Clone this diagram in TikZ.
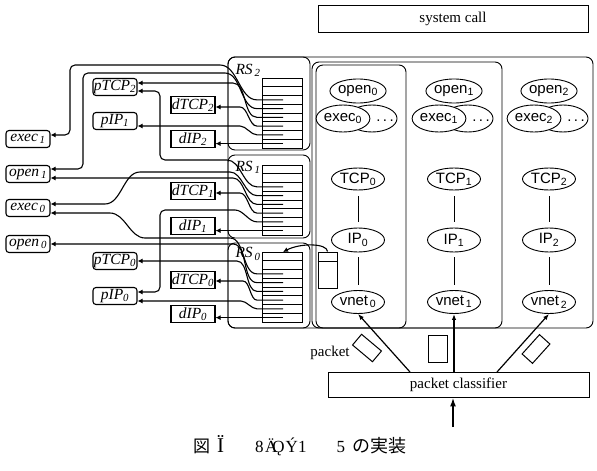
\documentclass[tikz,border=0pt]{standalone}
\usepackage{fontspec}
\setmainfont{Liberation Serif}
\setsansfont{Liberation Sans}
\newfontfamily\jpfont{Noto Sans CJK JP}
\usetikzlibrary{arrows.meta,shapes.geometric,calc}

\begin{document}
\begin{tikzpicture}[
  x=1pt, y=-1pt,
  every node/.style={font=\fontsize{15}{17}\selectfont},
  lbox/.style={draw,rounded corners=3pt,line width=1.1pt,minimum width=44pt,
               minimum height=17pt,inner sep=0.5pt,
               font=\fontsize{15.5}{17}\selectfont\itshape},
  dbox/.style={lbox,sharp corners},
  proto/.style={draw,ellipse,line width=0.9pt,minimum width=53pt,minimum height=23pt,
                inner sep=0pt,font=\sffamily\fontsize{15}{17}\selectfont},
  bigbox/.style={draw,line width=0.9pt,inner sep=0pt,font=\fontsize{15}{17}\selectfont},
  region/.style={draw,line width=0.9pt,rounded corners=7pt},
  conn/.style={line width=1.1pt,rounded corners=5pt,-{Latex[length=5pt,width=5pt]}},
  varr/.style={line width=1.2pt,-{Latex[length=6pt,width=4.5pt]}},
  inarr/.style={line width=1.8pt,-{Latex[length=9pt,width=6pt]}},
  pkt/.style={draw,line width=1pt,minimum width=26pt,minimum height=14pt,inner sep=0pt},
]
  \useasboundingbox (0,0) rectangle (597,471);

  % System call and classifier
  \node[bigbox,minimum width=270pt,minimum height=27pt] (syscall) at (453,18.5) {system call};
  \node[bigbox,minimum width=261pt,minimum height=25pt] (classifier) at (458.5,384.5) {packet classifier};

  % Regions
  \draw[region] (228,57) rectangle (593,328);
  \draw[region] (228,57) rectangle (310,150);
  \draw[region] (228,155) rectangle (310,238);
  \draw[region] (228,243) rectangle (310,328);
  \draw[region] (312,62) rectangle (502,328);
  \draw[region] (316,65) rectangle (406,328);

  % RS tables
  \foreach \n/\ty/\ly in {2/78/70,1/165/167,0/252/254}{
    \draw[line width=1pt] (262,\ty) rectangle (302,\ty+70);
    \foreach \k in {1,...,7}
      \draw[line width=0.9pt] (262,\ty+\k*8.75) -- (302,\ty+\k*8.75);
    \foreach \k in {1,...,8}
      \coordinate (rs\n r\k) at (283,\ty+\k*8.75-4.375);
    \coordinate (rs\n top) at (283,\ty);
    \node[font=\fontsize{15.5}{17}\selectfont\itshape] (rs\n) at (248,\ly) {RS\textsubscript{\,\n}};
  }

  % Process boxes
  \node[lbox] (exec1) at (28,139) {exec\textsubscript{\,1}};
  \node[lbox] (open1) at (28,174) {open\textsubscript{\,1}};
  \node[lbox] (exec0) at (28,208) {exec\textsubscript{\,0}};
  \node[lbox] (open0) at (28,244) {open\textsubscript{\,0}};
  \node[lbox] (ptcp2) at (115,87)  {pTCP\textsubscript{2}};
  \node[lbox] (pip1)  at (115,121) {pIP\textsubscript{1}};
  \node[lbox] (ptcp0) at (115,261) {pTCP\textsubscript{0}};
  \node[lbox] (pip0)  at (115,296) {pIP\textsubscript{0}};
  \node[dbox] (dtcp2) at (193,105) {dTCP\textsubscript{2}};
  \node[dbox] (dip2)  at (193,139) {dIP\textsubscript{2}};
  \node[dbox] (dtcp1) at (193,191) {dTCP\textsubscript{1}};
  \node[dbox] (dip1)  at (193,226) {dIP\textsubscript{1}};
  \node[dbox] (dtcp0) at (193,280) {dTCP\textsubscript{0}};
  \node[dbox] (dip0)  at (193,314) {dIP\textsubscript{0}};

  % Connectors from RS 2
  \draw[conn] (rs2r3) -- ++(-21,0) to[out=180,in=0] (215,65) -- (70,65) -- (70,135)
    -- ([yshift=4pt]exec1.east);
  \draw[conn] (rs2r4) -- ++(-21,0) to[out=180,in=0] (220,73) -- (83,73) -- (83,169)
    -- ([yshift=5pt]open1.east);
  \draw[conn] (rs2r5) -- ++(-21,0) to[out=180,in=0] (228,83) -- ([yshift=4pt]ptcp2.east);
  \draw[conn] (rs2r6) -- ++(-21,0) to[out=180,in=0] (235,107) -- ([yshift=-2pt]dtcp2.east);
  \draw[conn] (rs2r7) -- ++(-21,0) to[out=180,in=0] (235,126) -- ([yshift=-5pt]pip1.east);
  \draw[conn] (rs2r8) -- (dip2.east |- rs2r8);

  % Connectors from RS 1
  \draw[conn] (rs1r3) -- ++(-21,0) to[out=180,in=0] (222,160) -- (160,160) -- (160,91)
    -- ([yshift=-4pt]ptcp2.east);
  \draw[conn] (rs1r4) -- ++(-21,0) to[out=180,in=0] (225,172) -- (145,172)
    to[out=180,in=0] (100,204) -- ([yshift=4pt]exec0.east);
  \draw[conn] (rs1r5) -- ++(-21,0) to[out=180,in=0] (228,178) -- ([yshift=-4pt]open1.east);
  \draw[conn] (rs1r6) -- ++(-21,0) to[out=180,in=0] (235,193) -- ([yshift=-2pt]dtcp1.east);
  \draw[conn] (rs1r7) -- ++(-21,0) to[out=180,in=0] (230,210) -- (160,210) -- (160,292)
    -- ([yshift=4pt]pip0.east);
  \draw[conn] (rs1r8) -- (dip1.east |- rs1r8);

  % Connectors from RS 0
  \draw[conn] (rs0r3) -- ++(-21,0) to[out=180,in=0] (225,238) -- (150,238)
    to[out=180,in=0] (105,213) -- ([yshift=-5pt]exec0.east);
  \draw[conn] (rs0r4) -- ++(-21,0) to[out=180,in=0] (228,244) -- (open0.east);
  \draw[conn] (rs0r5) -- ++(-21,0) to[out=180,in=0] (232,261) -- (ptcp0.east);
  \draw[conn] (rs0r6) -- ++(-21,0) to[out=180,in=0] (238,281) -- ([yshift=-1pt]dtcp0.east);
  \draw[conn] (rs0r7) -- ++(-21,0) to[out=180,in=0] (236,301) -- ([yshift=-5pt]pip0.east);
  \draw[conn] (rs0r8) -- (dip0.east |- rs0r8);

  % Queue
  \node[draw,line width=1pt,minimum width=19pt,minimum height=36pt,inner sep=0pt]
    (queue) at (327.5,270) {};
  \draw[line width=1pt] ([yshift=-10pt]queue.north west) -- ([yshift=-10pt]queue.north east);
  \draw[conn] (queue.north) .. controls (327,243) and (300,243) .. (rs0top);

  % Protocol stacks
  \foreach \i/\cx in {0/358,1/454,2/549}{
    \node[proto,minimum height=24pt] (copen\i) at (\cx,91) {open\textsubscript{\i}};
    \node[proto,minimum width=50pt,minimum height=27pt] (more\i) at (\cx+14,118.5) {};
    \node[font=\sffamily\fontsize{15}{17}\selectfont] (dots\i) at (\cx+27,121) {.\,.\,.};
    \node[proto,fill=white,minimum width=50pt,minimum height=27pt] (cexec\i)
      at (\cx-15,118.5) {exec\textsubscript{\i}};
    \node[proto,minimum height=22pt] (tcp\i) at (\cx,179) {TCP\textsubscript{\i}};
    \node[proto,minimum height=24pt] (ip\i) at (\cx,240) {IP\textsubscript{\i}};
    \node[proto] (vnet\i) at (\cx,302) {vnet\textsubscript{\,\i}};
    \draw[line width=1pt,shorten <=6pt,shorten >=6pt] (tcp\i) -- (ip\i);
    \draw[line width=1pt,shorten <=5pt,shorten >=5pt] (ip\i) -- (vnet\i);
  }

  % Packet flow
  \coordinate (cl0) at (410,372);
  \coordinate (cl2) at (497,372);
  \coordinate (inflow) at (453,427);
  \draw[varr] (cl0) -- (vnet0.south);
  \draw[varr] (classifier.north -| vnet1) -- (vnet1.south);
  \draw[varr] (cl2) -- (vnet2.south);
  \draw[inarr] (inflow) -- (classifier.south -| inflow);

  % Packets
  \node[pkt,rotate=-40] (pkt0) at (367,348) {};
  \node[pkt,minimum width=19pt,minimum height=27pt] (pkt1) at (437.5,348.5) {};
  \node[pkt,rotate=48] (pkt2) at (536,349) {};
  \node (pktlbl) at (330,353) {packet};

  % Caption
  \node[anchor=west,inner sep=0pt,font=\fontsize{17}{19}\selectfont] (caption) at (193,446)
    {{\jpfont\fontsize{17}{19}\selectfont 図}\hspace{7pt}{\fontsize{21}{21}\selectfont Ï}\hspace{31pt}8\hspace{1.5pt}Ä\kern-5ptǪ\hspace{1pt}Ý1\hspace{30pt}5\hspace{7.5pt}{\jpfont\fontsize{18}{19}\selectfont の実装}};
\end{tikzpicture}
\end{document}
